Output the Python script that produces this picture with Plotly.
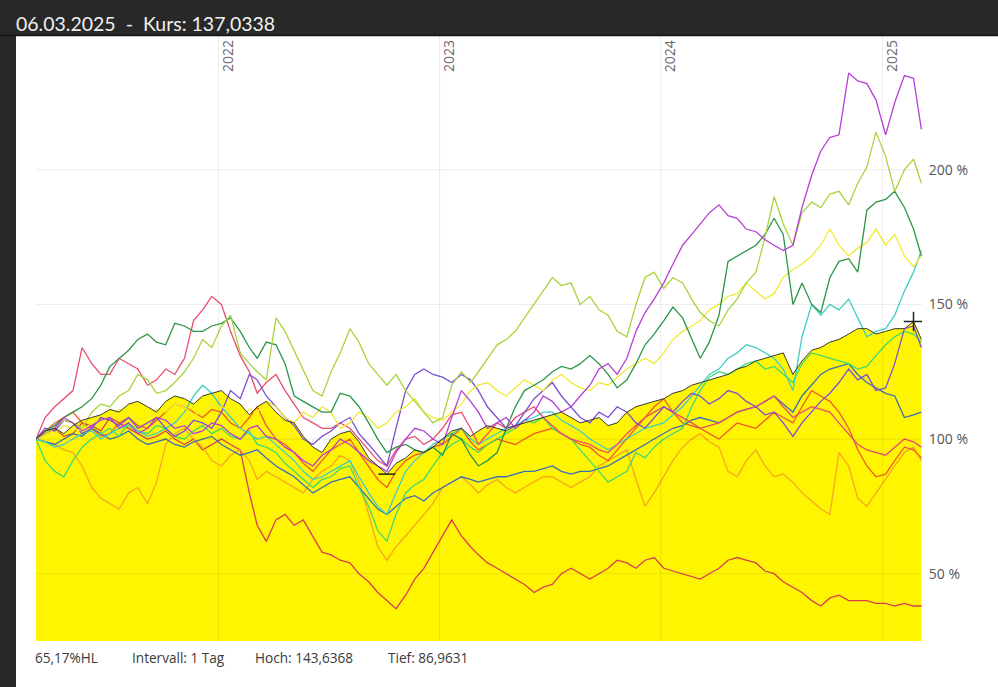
import pandas as pd
import plotly.graph_objects as go

month_dates = pd.date_range("2021-03-06", periods=49, freq=pd.DateOffset(months=1))
dates = []
for i, d in enumerate(month_dates):
    dates.append(d)
    if i < len(month_dates) - 1:
        dates.append(d + pd.Timedelta(days=15))

kurs = [100, 103, 104, 102, 105, 107, 108, 109, 111, 110, 113, 114, 112, 110, 114, 116, 115, 113, 116, 117,
        118, 115, 113, 109, 112, 114, 110, 107, 106, 101, 97, 95, 100, 102, 103, 99, 93, 90, 86.9631, 91, 93, 96, 95, 97,
        100, 103, 104, 101, 103, 105, 104, 103, 105, 106, 107, 108, 109, 110, 108, 106, 107, 108, 105, 106, 110, 112, 113, 114,
        115, 117, 118, 120, 121, 122, 123, 124, 126, 127, 129, 130, 131, 132, 124, 129, 133, 134, 136, 137, 139, 141, 141, 139,
        140, 141, 141, 143.6368, 137.0338]

orchid = [100, 103, 104, 108, 106, 103, 105, 107, 108, 104, 106, 102, 104, 108, 107, 104, 105, 102, 103, 106,
          105, 102, 100, 104, 105, 101, 100, 97, 95, 92, 90, 94, 96, 100, 98, 95, 92, 90, 88, 95, 100, 104, 103, 100,
          98, 108, 118, 114, 110, 104, 106, 108, 104, 107, 110, 116, 114, 110, 112, 116, 120, 126, 128, 124, 130, 140, 147, 152,
          158, 165, 172, 176, 180, 184, 187, 183, 182, 178, 177, 174, 172, 170, 172, 186, 198, 207, 212, 213, 236, 233, 232, 226,
          213, 225, 235, 234, 215]

blueviolet = [100, 104, 103, 107, 106, 102, 104, 108, 107, 105, 108, 104, 106, 108, 104, 101, 103, 107, 106, 104,
              110, 118, 115, 124, 122, 116, 112, 108, 105, 100, 98, 101, 103, 106, 108, 102, 98, 94, 90, 104, 118, 124, 126, 124,
              123, 121, 124, 122, 118, 112, 108, 104, 105, 110, 115, 118, 121, 116, 112, 108, 106, 110, 108, 112, 110, 106, 104, 108,
              112, 110, 114, 117, 116, 113, 115, 118, 117, 114, 112, 109, 110, 106, 101, 106, 110, 114, 117, 121, 126, 122, 124, 118,
              119, 128, 141, 142, 134]

yellowgreen = [100, 102, 104, 107, 106, 104, 110, 113, 112, 116, 118, 124, 122, 117, 118, 121, 125, 130, 137, 134,
               142, 146, 132, 128, 125, 122, 145, 140, 133, 126, 118, 116, 125, 132, 141, 136, 128, 124, 120, 124, 118, 114, 110, 106,
               108, 120, 125, 121, 125, 130, 135, 137, 140, 145, 150, 155, 160, 157, 158, 150, 153, 148, 146, 140, 138, 150, 160, 162,
               156, 160, 158, 152, 147, 144, 142, 148, 152, 158, 162, 175, 190, 180, 172, 184, 188, 186, 191, 192, 187, 195, 201, 214,
               205, 192, 200, 204, 195]

darkgreen = [100, 103, 105, 108, 110, 112, 115, 120, 127, 130, 133, 137, 139, 136, 135, 143, 142, 140, 140, 142,
             143, 145, 140, 134, 130, 136, 135, 128, 116, 114, 112, 110, 110, 117, 116, 112, 106, 100, 95, 97, 98, 96, 95, 97,
             94, 102, 100, 94, 90, 92, 95, 104, 112, 118, 120, 122, 125, 127, 126, 128, 131, 128, 124, 119, 122, 128, 135, 139,
             144, 149, 145, 137, 130, 136, 146, 166, 168, 170, 172, 176, 182, 176, 150, 158, 150, 147, 160, 166, 167, 162, 185, 188,
             189, 192, 186, 178, 168]

yellow = [100, 101, 102, 105, 104, 103, 106, 107, 108, 111, 110, 107, 108, 111, 110, 113, 112, 109, 110, 113,
          112, 110, 108, 111, 110, 114, 112, 108, 106, 110, 108, 112, 110, 104, 106, 110, 108, 104, 106, 110, 112, 115, 110, 108,
          107, 110, 113, 118, 120, 121, 118, 116, 119, 122, 120, 118, 122, 124, 121, 119, 118, 121, 120, 123, 126, 128, 130, 128,
          132, 137, 140, 142, 144, 148, 150, 153, 154, 158, 155, 152, 154, 160, 163, 165, 168, 172, 178, 172, 168, 171, 173, 178,
          172, 176, 168, 164, 168]

springgreen = [100, 92, 88, 86, 92, 97, 100, 102, 104, 101, 106, 103, 102, 105, 104, 101, 100, 103, 105, 102,
               104, 101, 100, 103, 98, 97, 95, 91, 88, 85, 82, 85, 86, 89, 90, 82, 75, 66, 62, 72, 80, 83, 85, 90,
               95, 98, 100, 97, 95, 98, 100, 102, 104, 107, 106, 108, 104, 102, 100, 96, 92, 88, 84, 86, 88, 95, 93, 97,
               100, 102, 104, 112, 118, 123, 125, 124, 126, 128, 129, 126, 127, 124, 121, 128, 132, 131, 130, 129, 128, 126, 127, 131,
               135, 138, 140, 139, 136]

turquoise = [100, 99, 97, 98, 100, 102, 103, 100, 102, 104, 105, 103, 101, 102, 104, 106, 110, 116, 120, 117,
             112, 108, 104, 102, 100, 101, 98, 95, 92, 88, 85, 86, 88, 90, 92, 86, 80, 75, 72, 80, 88, 92, 95, 98,
             100, 102, 104, 100, 98, 100, 102, 104, 105, 107, 108, 110, 110, 107, 105, 103, 100, 98, 96, 98, 100, 102, 104, 105,
             106, 109, 112, 116, 120, 124, 126, 130, 132, 135, 134, 132, 130, 126, 118, 138, 150, 146, 150, 148, 152, 145, 138, 140,
             141, 146, 155, 162, 170]

steelblue = [100, 99, 98, 100, 102, 101, 104, 102, 100, 101, 103, 100, 98, 99, 100, 98, 97, 99, 100, 101,
             98, 96, 94, 95, 96, 93, 90, 88, 86, 83, 80, 82, 84, 85, 86, 82, 78, 74, 72, 75, 78, 79, 77, 80,
             82, 84, 86, 85, 84, 85, 86, 86, 87, 88, 88, 89, 90, 88, 87, 88, 88, 89, 90, 92, 94, 96, 98, 100,
             102, 104, 105, 107, 108, 107, 106, 108, 110, 111, 112, 114, 116, 113, 110, 116, 120, 124, 126, 127, 128, 124, 121, 119,
             117, 116, 108, 109, 110]

pink = [100, 108, 112, 115, 118, 134, 128, 124, 124, 130, 128, 126, 120, 122, 126, 124, 130, 144, 148, 153,
        150, 140, 131, 125, 117, 121, 124, 118, 113, 108, 106, 104, 104, 106, 104, 100, 96, 92, 90, 96, 100, 101, 98, 100,
        104, 109, 110, 104, 98, 102, 106, 104, 108, 110, 112, 108, 105, 102, 100, 99, 98, 96, 95, 98, 102, 105, 108, 110,
        112, 110, 108, 106, 104, 105, 106, 108, 110, 111, 112, 114, 116, 112, 108, 110, 112, 111, 110, 106, 102, 98, 96, 95,
        94, 97, 100, 99, 97]

orangered = [100, 103, 106, 108, 110, 106, 104, 101, 102, 106, 108, 105, 104, 107, 110, 113, 112, 110, 108, 111,
             110, 106, 104, 108, 112, 105, 100, 98, 95, 91, 88, 92, 96, 98, 100, 95, 90, 85, 82, 88, 92, 94, 95, 97,
             98, 101, 104, 99, 96, 98, 100, 99, 98, 100, 102, 103, 104, 102, 100, 98, 97, 94, 92, 96, 100, 104, 108, 112,
             115, 110, 106, 105, 104, 102, 100, 103, 106, 105, 104, 107, 110, 108, 106, 112, 118, 116, 114, 110, 104, 96, 90, 86,
             87, 92, 97, 96, 93]

orange = [100, 99, 98, 96, 95, 90, 82, 78, 76, 74, 80, 82, 76, 84, 98, 102, 104, 100, 97, 92,
          90, 94, 96, 92, 85, 88, 86, 84, 82, 80, 85, 88, 90, 94, 92, 84, 72, 60, 55, 60, 64, 68, 72, 76,
          82, 84, 86, 83, 80, 83, 85, 82, 80, 82, 84, 86, 86, 84, 82, 84, 86, 90, 92, 94, 96, 85, 75, 80,
          86, 92, 97, 100, 102, 99, 97, 88, 86, 92, 96, 90, 86, 87, 84, 80, 77, 74, 72, 95, 90, 78, 75, 80,
          85, 90, 95, 97, 92]

crimson = [100, 102, 104, 101, 102, 106, 105, 103, 108, 106, 104, 102, 100, 101, 103, 100, 98, 100, 96, 98,
           100, 98, 96, 80, 68, 62, 70, 72, 68, 70, 64, 58, 57, 55, 54, 50, 47, 43, 40, 37, 42, 48, 52, 58,
           64, 70, 64, 60, 57, 54, 52, 50, 48, 46, 43, 45, 46, 50, 52, 50, 48, 50, 52, 55, 54, 52, 55, 56,
           52, 51, 50, 49, 48, 50, 52, 55, 56, 55, 54, 51, 50, 47, 45, 43, 40, 38, 41, 42, 40, 40, 40, 39,
           39, 38, 39, 38, 38]

series = [
    ("crimson", crimson, "#d8404c"),
    ("orange", orange, "#f5a623"),
    ("orangered", orangered, "#ef5a2a"),
    ("steelblue", steelblue, "#3a6fb5"),
    ("springgreen", springgreen, "#3fda70"),
    ("turquoise", turquoise, "#3ecfc4"),
    ("pink", pink, "#ea4d6c"),
    ("blueviolet", blueviolet, "#7d4fd2"),
    ("yellow", yellow, "#f2ea34"),
    ("darkgreen", darkgreen, "#2b9548"),
    ("yellowgreen", yellowgreen, "#a9d43c"),
    ("orchid", orchid, "#b63fd6"),
]

year_ticks = ["2022-01-01", "2023-01-01", "2024-01-01", "2025-01-01"]
year_labels = ["2022", "2023", "2024", "2025"]
pct_ticks = [50, 100, 150, 200]
pct_labels = ["50 %", "100 %", "150 %", "200 %"]

header = "06.03.2025\u00a0\u00a0-\u00a0\u00a0Kurs: 137,0338"
footer = ["65,17%HL", "Intervall: 1 Tag", "Hoch: 143,6368", "Tief: 86,9631"]
footer_px = [33, 130, 253, 386]

W, H = 998, 687
ML, MR, MT, MB = 36, 76, 36, 46
PW, PH = W - ML - MR, H - MT - MB


def px_x(p):
    return (p - ML) / PW


def px_y(p):
    return (H - MB - p) / PH


fig = go.Figure()

fig.add_trace(go.Scatter(x=dates, y=kurs, mode="lines", line=dict(width=0),
                         fill="tozeroy", fillcolor="#fff500", hoverinfo="skip"))

for name, vals, col in series:
    fig.add_trace(go.Scatter(x=dates, y=vals, mode="lines", name=name,
                             line=dict(color=col, width=1.3)))

fig.add_trace(go.Scatter(x=dates, y=kurs, mode="lines",
                         line=dict(color="#3a3a2a", width=1)))

imax = kurs.index(max(kurs))
imin = kurs.index(min(kurs))
fig.add_trace(go.Scatter(x=[dates[imax]], y=[kurs[imax]], mode="markers",
                         marker=dict(symbol="cross-thin", size=14,
                                     line=dict(color="#222", width=1.5))))
fig.add_trace(go.Scatter(x=[dates[imin]], y=[kurs[imin]], mode="markers",
                         marker=dict(symbol="line-ew", size=12,
                                     line=dict(color="#222", width=1.5))))

shapes = [
    dict(type="rect", xref="paper", yref="paper", x0=px_x(16), x1=px_x(1100),
         y0=px_y(800), y1=px_y(36), fillcolor="white", line=dict(width=0), layer="below"),
    dict(type="line", xref="paper", yref="paper", x0=px_x(0), x1=px_x(1100),
         y0=px_y(35.5), y1=px_y(35.5), line=dict(color="#151515", width=1.5)),
]
for v in pct_ticks:
    shapes.append(dict(type="line", xref="paper", yref="y", x0=0, x1=1, y0=v, y1=v,
                       line=dict(color="rgba(0,0,0,0.08)", width=1), layer="above"))
for d in year_ticks:
    shapes.append(dict(type="line", xref="x", yref="paper", x0=d, x1=d, y0=0, y1=1,
                       line=dict(color="rgba(0,0,0,0.08)", width=1), layer="above"))

annotations = []
for d, lab in zip(year_ticks, year_labels):
    annotations.append(dict(x=d, y=1, xref="x", yref="paper", text=lab, showarrow=False,
                            textangle=-90, xanchor="left", yanchor="top", yshift=-2, xshift=-3,
                            font=dict(family="Open Sans", size=14, color="#666666")))
annotations.append(dict(x=px_x(14), y=px_y(24), xref="paper", yref="paper", text=header,
                        showarrow=False, xanchor="left", yanchor="middle",
                        font=dict(family="Lato", size=19.5, color="#f0f0f0")))
for t, p in zip(footer, footer_px):
    annotations.append(dict(x=px_x(p), y=px_y(657), xref="paper", yref="paper", text=t,
                            showarrow=False, xanchor="left", yanchor="middle",
                            font=dict(family="Open Sans", size=13.6, color="#3a3a3a")))

fig.update_layout(
    width=W, height=H,
    margin=dict(l=ML, r=MR, t=MT, b=MB, pad=0),
    paper_bgcolor="#282828", plot_bgcolor="white",
    showlegend=False,
    shapes=shapes, annotations=annotations,
    xaxis=dict(type="date", range=["2021-03-06", "2025-03-07"], showgrid=False,
               showticklabels=False, zeroline=False, showline=False, ticks=""),
    yaxis=dict(range=[25.0, 249.7], side="right", tickmode="array", tickvals=pct_ticks,
               ticktext=pct_labels, showgrid=False, zeroline=False, showline=False,
               ticks="outside", ticklen=3, tickcolor="rgba(0,0,0,0)",
               tickfont=dict(family="Open Sans", size=14, color="#555555")),
)

fig.write_html("out.html")
